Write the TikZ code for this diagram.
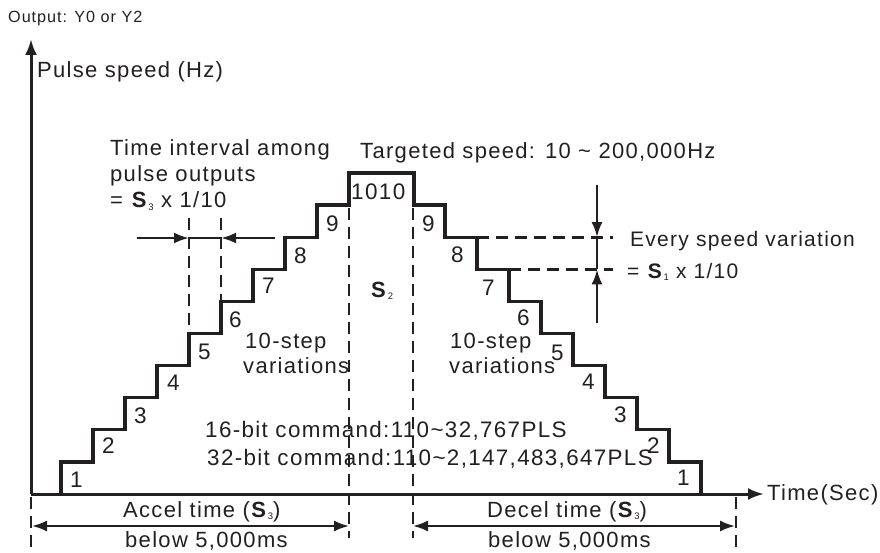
\documentclass[tikz,border=0pt]{standalone}
\usepackage{fontspec}
\setmainfont{Liberation Sans}[LetterSpace=6.0]
\usetikzlibrary{arrows.meta}
\definecolor{ink}{RGB}{35,31,32}
\newcommand{\Sb}[1]{\textbf{S}\kern0.6pt\raisebox{-2pt}{\fontsize{9.5}{9.5}\selectfont #1}}
\begin{document}
\begin{tikzpicture}[x=1pt,y=-1pt,
  lbl/.style={inner sep=0pt, anchor=base west, text=ink, font=\fontsize{22}{26}\selectfont},
  lblnarrow/.style={lbl, font=\fontsize{21}{25}\selectfont},
  lblwide/.style={lbl, font=\fontsize{22.4}{26}\selectfont},
  digit/.style={lbl, font=\fontsize{22.5}{26}\selectfont},
  smalllbl/.style={lbl, font=\fontsize{16.2}{20}\selectfont},
  stair/.style={draw=ink, line width=3.3pt, line join=miter},
  axisline/.style={draw=ink, line width=3pt, -{Latex[length=16pt,width=12pt]}},
  dashline/.style={draw=ink, line width=2.8pt, dash pattern=on 12pt off 7pt},
  dimarrow/.style={draw=ink, line width=2.1pt, {Latex[length=15pt,width=11pt]}-{Latex[length=15pt,width=11pt]}},
  ptr/.style={draw=ink, line width=2.6pt, -{Latex[length=15pt,width=11pt]}},
  solidbar/.style={draw=ink, line width=2.6pt}]
\useasboundingbox (0,0) rectangle (880,553);

% named coordinates
\coordinate (O) at (31,494);
\coordinate (ytip) at (31,39);
\coordinate (xtip) at (764,494);

% dashed guide lines (drawn first)
\draw[dashline] (349,208) -- (349,538);
\draw[dashline] (413,208) -- (413,538);
\draw[dashline] (31,497) -- (31,553);
\draw[dashline] (736,497) -- (736,553);
\draw[dashline] (189,218) -- (189,333);
\draw[dashline] (221,218) -- (221,301);
\draw[dashline] (477,237.2) -- (613,237.2);
\draw[dashline] (509,269.3) -- (613,269.3);

% axes
\draw[axisline] (O) -- (ytip);
\draw[axisline] (O) -- (xtip);

% staircase
\draw[stair] (61,494) |- (93,461.9) |- (125,429.8) |- (157,397.7) |- (189,365.6)
  |- (221,333.5) |- (253,301.4) |- (285,269.3) |- (317,237.2) |- (349,205.1)
  |- (414,173) |- (445,205.1) |- (477,237.2) |- (509,269.3) |- (541,301.4)
  |- (573,333.5) |- (605,365.6) |- (637,397.7) |- (669,429.8) |- (701,461.9) -- (701,494);

% time interval pointers
\coordinate (ti1) at (189,238);
\coordinate (ti2) at (221,238);
\draw[ptr] (137,238) -- (ti1);
\draw[ptr] (275,238) -- (ti2);
\draw[solidbar] (ti1) -- (ti2);

% speed variation pointers
\coordinate (sv1) at (597,237.2);
\coordinate (sv2) at (597,269.3);
\draw[ptr] (597,185) -- (sv1);
\draw[ptr] (597,323) -- (sv2);
\draw[solidbar] (sv1) -- (sv2);

% dimension arrows
\coordinate (a1) at (32,526);
\coordinate (a2) at (349,526);
\coordinate (d1) at (413,526);
\coordinate (d2) at (735,526);
\draw[dimarrow] (a1) -- (a2);
\draw[dimarrow] (d1) -- (d2);

% texts
\node[smalllbl] (out) at (8,23) {Output: Y0 or Y2};
\node[lbl] (ps) at (37,78) {Pulse speed (Hz)};
\node[lbl] (ti) at (110,156) {Time interval among};
\node[lbl] (po) at (110,182) {pulse outputs};
\node[lbl] (s3) at (110,208) {= \Sb{3} x 1/10};
\node[lbl] (tg) at (360,159) {Targeted speed: 10 \char`\~{} 200,000Hz};
\node[lblnarrow] (ev) at (630,247) {Every speed variation};
\node[lblnarrow] (s1) at (627,278) {= \Sb{1} x 1/10};
\node[lbl] (s2) at (371,297) {\Sb{2}};
\node[lbl] (vl1) at (245,348) {10-step};
\node[lbl] (vl2) at (243,373) {variations};
\node[lbl] (vr1) at (450,348) {10-step};
\node[lbl] (vr2) at (449,373) {variations};
\node[lblwide] (c16) at (205,437) {16-bit command:110\char`\~32,767PLS};
\node[lblwide] (c32) at (207,465) {32-bit command:110\char`\~2,147,483,647PLS};
\node[lbl] (tsec) at (767,500) {Time(Sec)};
\node[lbl] (acc) at (123,517) {Accel time (\Sb{3})};
\node[lbl] (accb) at (125,547) {below 5,000ms};
\node[lbl] (dec) at (487,517) {Decel time (\Sb{3})};
\node[lbl] (decb) at (488,547) {below 5,000ms};

% step numbers, left
\node[digit] (l1) at (70,487) {1};
\node[digit] (l2) at (102,453) {2};
\node[digit] (l3) at (134,423) {3};
\node[digit] (l4) at (167,390) {4};
\node[digit] (l5) at (198,359) {5};
\node[digit] (l6) at (229,327) {6};
\node[digit] (l7) at (262,293) {7};
\node[digit] (l8) at (294,263) {8};
\node[digit] (l9) at (326,232) {9};
\node[digit] (top) at (351,200) {1010};
% step numbers, right
\node[digit] (r9) at (422,232) {9};
\node[digit] (r8) at (451,262) {8};
\node[digit] (r7) at (482,295) {7};
\node[digit] (r6) at (517,325) {6};
\node[digit] (r5) at (551,360) {5};
\node[digit] (r4) at (582,389) {4};
\node[digit] (r3) at (614,422) {3};
\node[digit] (r2) at (647,453) {2};
\node[digit] (r1) at (677,485) {1};
\end{tikzpicture}
\end{document}
